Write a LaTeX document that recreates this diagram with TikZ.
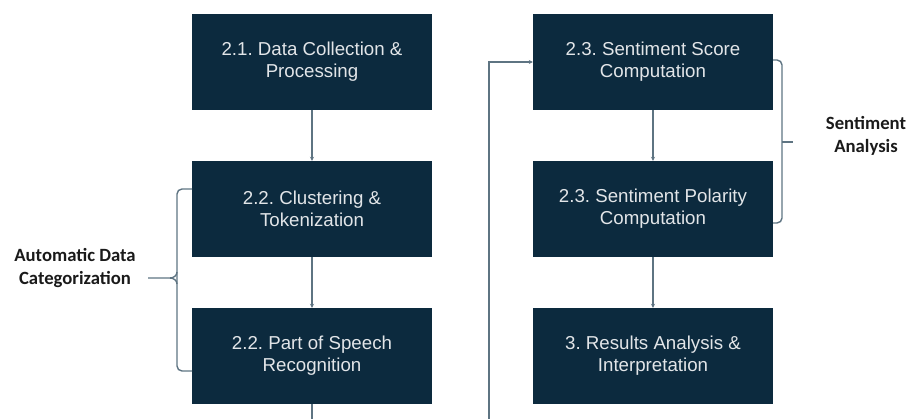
\documentclass[tikz,border=0pt]{standalone}
\usepackage{fontspec}
\newfontfamily\boxfont{Liberation Sans}
\newfontfamily\labfont{Carlito}
\usetikzlibrary{arrows.meta}
\definecolor{navy}{HTML}{0C2A3E}
\definecolor{boxtext}{HTML}{E2E5E8}
\definecolor{conn}{HTML}{5E7482}
\definecolor{labtext}{HTML}{1A1A1A}
\frenchspacing
\begin{document}
\begin{tikzpicture}[x=1pt,y=-1pt,
  stepbox/.style={fill=navy, draw=none, minimum width=240pt, minimum height=96pt, inner sep=0pt,
    align=center, text=boxtext, font=\boxfont\fontsize{18.7}{22}\selectfont},
  lab/.style={align=center, text=labtext, font=\labfont\bfseries\fontsize{18.7}{23}\selectfont},
  conn/.style={draw=conn, line width=1.1pt},
  arr/.style={conn, -{Stealth[length=4pt,width=4pt]}},
  brace/.style={draw=conn, line width=1.4pt, rounded corners=5pt}
]
\useasboundingbox (0,0) rectangle (909,419);
\node[stepbox] (b1) at (312,62) {2.1. Data Collection \&\\Processing};
\node[stepbox] (b2) at (312,209) {2.2. Clustering \&\\Tokenization};
\node[stepbox] (b3) at (312,356) {2.2. Part of Speech\\Recognition};
\node[stepbox] (b4) at (653,62) {2.3. Sentiment Score\\Computation};
\node[stepbox] (b5) at (653,209) {2.3. Sentiment Polarity\\Computation};
\node[stepbox] (b6) at (653,356) {3. Results Analysis \&\\Interpretation};
\coordinate (e1) at (312,419);
\coordinate (e2) at (489,419);
\draw[arr] (b1) -- (b2);
\draw[arr] (b2) -- (b3);
\draw[conn] (b3) -- (e1);
\draw[arr] (b4) -- (b5);
\draw[arr] (b5) -- (b6);
\draw[arr] (e2) |- (b4.west);
% left brace
\coordinate (lt) at (192,189);
\coordinate (lb) at (192,371);
\coordinate (lm) at (148,278);
\draw[brace] (lt) -- (177,189) -- (177,371) -- (lb);
\draw[conn, line width=1.4pt] (lm) -- (170,278) to[out=0,in=270] (177,272);
\draw[conn, line width=1.4pt] (170,278) to[out=0,in=90] (177,284);
\node[lab] (lablA) at (75,268) {Automatic Data\\Categorization};
% right brace
\coordinate (rt) at (773,60);
\coordinate (rb) at (773,223);
\coordinate (rm) at (793,142);
\draw[brace] (rt) -- (782,60) -- (782,223) -- (rb);
\draw[conn, line width=1.4pt] (782,142) -- (rm);
\node[lab] (lablB) at (866,136) {Sentiment\\Analysis};
\end{tikzpicture}
\end{document}
